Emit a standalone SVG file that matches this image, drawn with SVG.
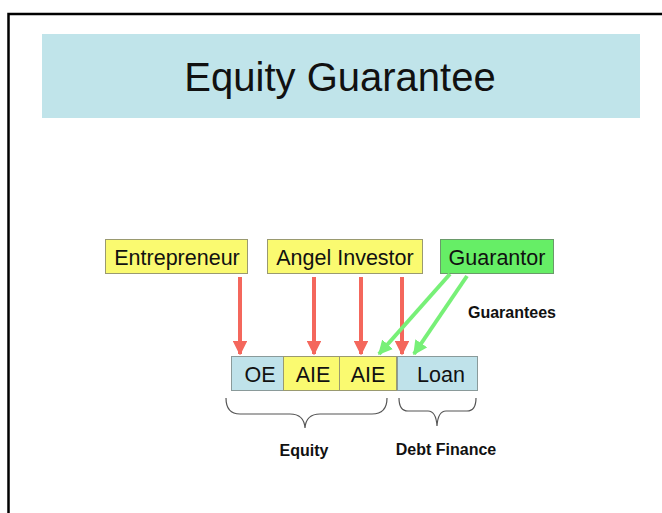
<svg xmlns="http://www.w3.org/2000/svg" width="662" height="513" viewBox="0 0 662 513">
<style>
text{font-family:"Liberation Sans",Arial,sans-serif;fill:#111}
.node{stroke:#9a9a70;stroke-width:1}
.yel{fill:#fafa70}
.grn{fill:#66ee66;stroke:#6a9a6a}
.blue{fill:#bfe2ea;stroke:#8a9a9a}
.lbl{font-size:21.5px;text-anchor:middle}
.cell{font-size:21.5px;text-anchor:middle}
.red{stroke:#f4675c;stroke-width:4;fill:none}
.green{stroke:#77f077;stroke-width:4;fill:none}
.brace{fill:none;stroke:#555;stroke-width:1.2}
.bold{font-size:16px;font-weight:bold;text-anchor:middle}
</style>
<defs>
<marker id="ahr" viewBox="0 0 10 10" refX="9" refY="5" markerWidth="3.6" markerHeight="3.6" orient="auto" markerUnits="strokeWidth">
<path d="M0,0 L10,5 L0,10 z" fill="#f4675c"/>
</marker>
<marker id="ahg" viewBox="0 0 10 10" refX="9" refY="5" markerWidth="3.6" markerHeight="3.6" orient="auto" markerUnits="strokeWidth">
<path d="M0,0 L10,5 L0,10 z" fill="#77f077"/>
</marker>
</defs>
<rect x="0" y="0" width="662" height="513" fill="#fff"/>
<path d="M8.5,513 V14 H662" fill="none" stroke="#000" stroke-width="2.5"/>
<g id="title">
<rect x="42" y="34" width="598" height="84" fill="#c0e4ea"/>
<text x="340" y="91" font-size="40" text-anchor="middle">Equity Guarantee</text>
</g>
<g id="entrepreneur">
<rect class="node yel" x="105.5" y="239.5" width="142" height="34"/>
<text class="lbl" x="177" y="265">Entrepreneur</text>
</g>
<g id="angel-investor">
<rect class="node yel" x="267.5" y="239.5" width="155" height="34"/>
<text class="lbl" x="345" y="265">Angel Investor</text>
</g>
<g id="guarantor">
<rect class="node grn" x="440.5" y="239.5" width="113" height="34"/>
<text class="lbl" x="497" y="265">Guarantor</text>
</g>
<g id="oe">
<rect class="node blue" x="231.5" y="356.5" width="52" height="34"/>
<text class="cell" x="260" y="382">OE</text>
</g>
<g id="aie1">
<rect class="node yel" x="283.5" y="356.5" width="56" height="34"/>
<text class="cell" x="313" y="382">AIE</text>
</g>
<g id="aie2">
<rect class="node yel" x="339.5" y="356.5" width="57" height="34"/>
<text class="cell" x="368" y="382">AIE</text>
</g>
<g id="loan">
<rect class="node blue" x="397.5" y="356.5" width="80" height="34"/>
<text class="cell" x="441" y="382">Loan</text>
</g>
<g id="connectors">
<line class="red" x1="240" y1="277" x2="240" y2="354" marker-end="url(#ahr)"/>
<line class="red" x1="314" y1="277" x2="314" y2="354" marker-end="url(#ahr)"/>
<line class="red" x1="361" y1="277" x2="361" y2="354" marker-end="url(#ahr)"/>
<line class="red" x1="402" y1="277" x2="402" y2="354" marker-end="url(#ahr)"/>
<line class="green" x1="450" y1="274" x2="379" y2="354" marker-end="url(#ahg)"/>
<line class="green" x1="467" y1="276" x2="414" y2="354" marker-end="url(#ahg)"/>
</g>
<g id="labels">
<text class="bold" x="512" y="318">Guarantees</text>
<path class="brace" d="M226,398 Q226,414 240,414 H290 Q304,414 305,428 Q306,414 320,414 H372 Q387,414 387,398"/>
<path class="brace" d="M399,398 Q399,411 408,411 H428 Q436,411 437,426 Q438,411 446,411 H467 Q476,411 476,398"/>
<text class="bold" x="304" y="456">Equity</text>
<text class="bold" x="446" y="455">Debt Finance</text>
</g>
</svg>
